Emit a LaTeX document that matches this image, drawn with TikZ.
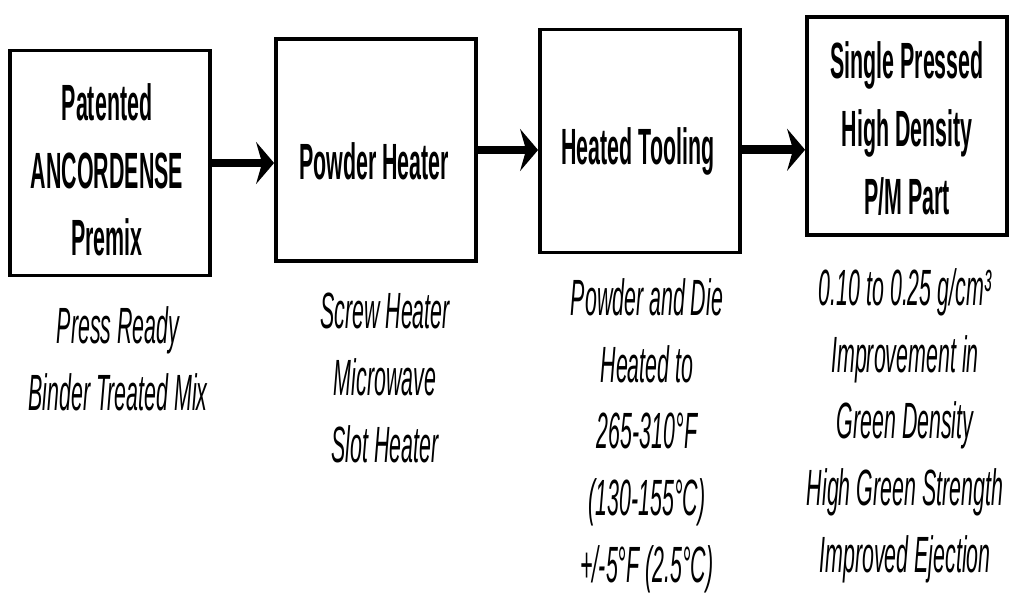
\documentclass[tikz,border=0pt]{standalone}
\usepackage{fontspec}
\setmainfont{Liberation Sans}[FakeStretch=0.42]
\usetikzlibrary{arrows.meta}

\begin{document}
\begin{tikzpicture}[
  x=0.02cm, y=-0.02cm,
  stage/.style={draw, line width=2.2pt, inner sep=0pt,
                minimum width=4cm, minimum height=4.44cm},
  title/.style={align=center, inner sep=0pt,
                font=\fontsize{29}{38.5}\selectfont\bfseries},
  note/.style={align=center, inner sep=0pt, anchor=north,
               font=\fontsize{29}{38}\selectfont\itshape},
  flow/.style={-{Stealth[length=3.6mm, width=8.4mm, inset=1.2mm]}, line width=5pt}
]
  \useasboundingbox (0,0) rectangle (1010,598);
  % Process boxes
  \node[stage, minimum height=4.5cm]  (PM) at (110,163) {};
  \node[stage]                        (PH) at (376,150) {};
  \node[stage, minimum height=4.46cm] (HT) at (640,141) {};
  \node[stage, minimum height=4.36cm] (PP) at (907,126) {};
  % Box titles
  \node[title] (PMt) at (107,170)   {Patented\\ ANCORDENSE\\ Premix};
  \node[title] (PHt) at (374,161)   {Powder Heater};
  \node[title] (HTt) at (638,151)   {Heated Tooling};
  \node[title] (PPt) at (907,128.5) {Single Pressed\\ High Density\\ P/M Part};
  % Notes under the boxes
  \node[note] (PMn) at (118,306) {Press Ready\\ Binder Treated Mix};
  \node[note] (PHn) at (385,293) {Screw Heater\\ Microwave\\ Slot Heater};
  \node[note] (HTn) at (647,278) {Powder and Die\\ Heated to\\ 265-310°F\\ (130-155°C)\\ +/-5°F (2.5°C)};
  \node[note] (PPn) at (905,268) {0.10 to 0.25 g/cm³\\ Improvement in\\ Green Density\\ High Green Strength\\ Improved Ejection};
  % Flow arrows
  \draw[flow] (PM.east) -- (PM.east -| PH.west);
  \draw[flow] (PH.east) -- (PH.east -| HT.west);
  \draw[flow] ([yshift=-5]HT.east) -- ([yshift=-5]HT.east -| PP.west);
\end{tikzpicture}
\end{document}
